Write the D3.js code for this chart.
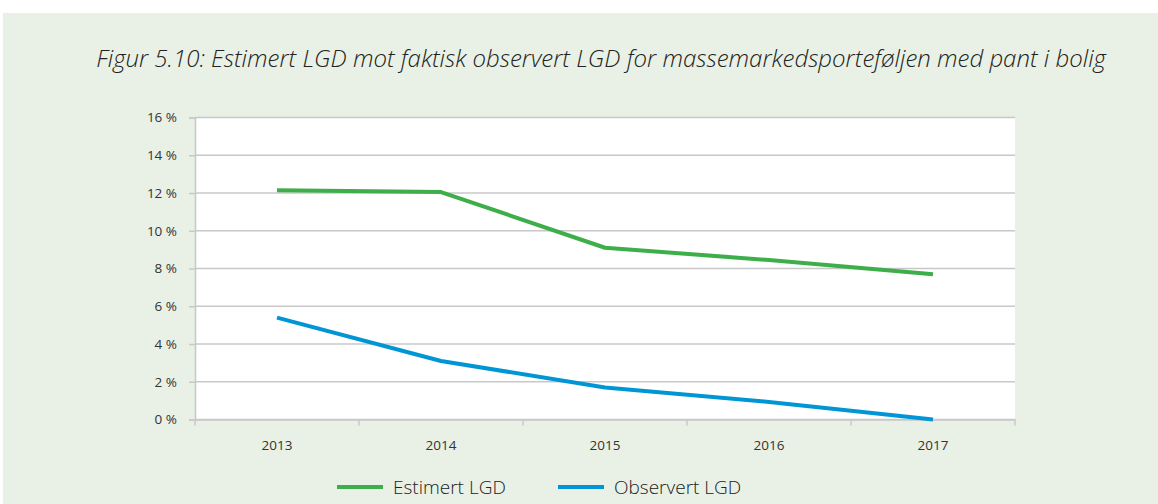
<!DOCTYPE html>
<html>
<head>
<meta charset="utf-8">
<script src="https://cdn.jsdelivr.net/npm/d3@7"></script>
<style>
	body { margin: 0; background: #ffffff; }
	svg { display: block; }
	text { font-family: "Open Sans", "DejaVu Sans", sans-serif; fill: #333333; }
	.title { font-style: italic; font-weight: 300; font-size: 24px; fill: #222222; }
	.tick text { font-size: 13.5px; }
	.legend text { font-size: 19px; font-weight: 300; fill: #222222; }
</style>
</head>
<body>
<svg></svg>
<script>
const years = ["2013", "2014", "2015", "2016", "2017"]
const estimert = [12.15, 12.05, 9.1, 8.45, 7.7]
const observert = [5.4, 3.1, 1.7, 0.93, 0.0]
const yTicks = [0, 2, 4, 6, 8, 10, 12, 14, 16]
const seriesNames = ["Estimert LGD", "Observert LGD"]
const seriesColors = ["#3dae49", "#0096d6"]

const width = 1158
const height = 504

const svg = d3.select("svg")
	.attr("width", width)
	.attr("height", height)

// light green panel
svg.append("rect")
	.attr("x", 3)
	.attr("y", 13)
	.attr("width", width - 3)
	.attr("height", height - 13)
	.style("fill", "#e9f1e6")

svg.append("text")
	.attr("class", "title")
	.attr("x", 601)
	.attr("y", 67)
	.attr("text-anchor", "middle")
	.text("Figur 5.10: Estimert LGD mot faktisk observert LGD for massemarkedsporteføljen med pant i bolig")

const xScale = d3.scaleBand()
	.domain(years)
	.range([195, 1015])

const yScale = d3.scaleLinear()
	.domain([0, 16])
	.range([419.5, 117.5])

// white plot area
svg.append("rect")
	.attr("x", xScale.range()[0])
	.attr("y", yScale(16))
	.attr("width", xScale.range()[1] - xScale.range()[0])
	.attr("height", yScale(0) - yScale(16))
	.style("fill", "#ffffff")

// horizontal gridlines
svg.append("g")
	.selectAll("line")
	.data(yTicks)
	.enter()
	.append("line")
	.attr("x1", xScale.range()[0])
	.attr("x2", xScale.range()[1])
	.attr("y1", d => yScale(d))
	.attr("y2", d => yScale(d))
	.style("stroke", "#c8c8c8")
	.style("stroke-width", 1.5)

const yAxis = svg.append("g")
	.attr("transform", `translate(${xScale.range()[0]}, 0)`)
	.call(d3.axisLeft(yScale).tickValues(yTicks).tickSize(6).tickPadding(12).tickFormat(d => d + " %"))

const xAxis = svg.append("g")
	.attr("transform", `translate(0, ${yScale(0)})`)
	.call(d3.axisBottom(xScale).tickSize(0).tickPadding(21))

// tick marks between categories
xAxis.selectAll("line.sep")
	.data(d3.range(years.length + 1))
	.enter()
	.append("line")
	.attr("class", "sep")
	.attr("x1", i => xScale.range()[0] + i * xScale.step())
	.attr("x2", i => xScale.range()[0] + i * xScale.step())
	.attr("y1", 0)
	.attr("y2", 6)

svg.selectAll(".domain, .tick line, line.sep")
	.style("stroke", "#c8c8c8")
	.style("stroke-width", 1.5)

svg.selectAll(".tick text").style("fill", "#333333")

const lineGenerator = d3.line()
	.x((d, i) => xScale(years[i]) + xScale.bandwidth() / 2)
	.y(d => yScale(d))

const seriesData = [estimert, observert]

svg.selectAll("path.series")
	.data(seriesData)
	.enter()
	.append("path")
	.attr("class", "series")
	.attr("d", d => lineGenerator(d))
	.style("fill", "none")
	.style("stroke", (d, i) => seriesColors[i])
	.style("stroke-width", 4)
	.style("stroke-linejoin", "round")

// legend
const legend = svg.selectAll("g.legend")
	.data(seriesNames)
	.enter()
	.append("g")
	.attr("class", "legend")
	.attr("transform", (d, i) => `translate(${337 + i * 221}, 487)`)

legend.append("line")
	.attr("x1", 0)
	.attr("x2", 46)
	.style("stroke", (d, i) => seriesColors[i])
	.style("stroke-width", 4)

legend.append("text")
	.attr("x", 56)
	.attr("y", 6.5)
	.text(d => d)
</script>
</body>
</html>
